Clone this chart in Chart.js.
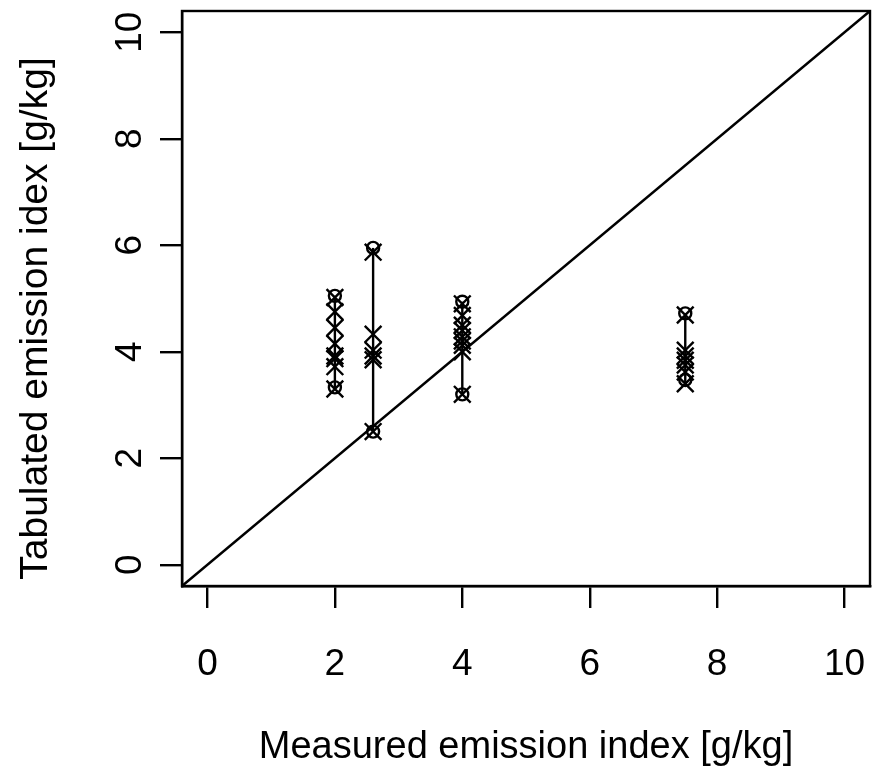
<!DOCTYPE html>
<html>
<head>
<meta charset="utf-8">
<script src="https://cdn.jsdelivr.net/npm/chart.js@4/dist/chart.umd.min.js"></script>
<style>
html,body{margin:0;padding:0;background:#fff;}
#wrap{width:879px;height:770px;}
</style>
</head>
<body>
<div id="wrap"><canvas id="c" width="879" height="770"></canvas></div>
<script>
// ---- data ----
const measured = [2, 2.6, 4, 7.5];
// circles (pch 1) per group
const circleVals = [
  [5.05, 3.33],
  [5.95, 2.50],
  [4.94, 3.20],
  [4.72, 3.47]
];
// crosses (pch 4) per group
const crossVals = [
  [5.02, 4.75, 4.45, 4.15, 3.92, 3.87, 3.72, 3.30],
  [5.87, 4.33, 4.03, 3.92, 3.85, 2.50],
  [4.90, 4.68, 4.50, 4.40, 4.28, 4.20, 4.12, 4.00, 3.20],
  [4.69, 4.03, 3.92, 3.84, 3.75, 3.62, 3.40]
];
const xTicks = [0, 2, 4, 6, 8, 10];
const yTicks = [0, 2, 4, 6, 8, 10];
const axisMin = -0.4, axisMax = 10.4;
const xTitle = 'Measured emission index [g/kg]';
const yTitle = 'Tabulated emission idex [g/kg]';

// ---- build datasets ----
const FONT = 'Liberation Sans, Arial, sans-serif';
const LW = 2.4;
const datasets = [];
datasets.push({
  label: 'identity',
  data: [{x: axisMin, y: axisMin}, {x: axisMax, y: axisMax}],
  showLine: true, borderColor: '#000', borderWidth: LW, pointRadius: 0, fill: false
});
measured.forEach((m, i) => {
  const all = circleVals[i].concat(crossVals[i]);
  datasets.push({
    label: 'range' + i,
    data: [{x: m, y: Math.min(...all)}, {x: m, y: Math.max(...all)}],
    showLine: true, borderColor: '#000', borderWidth: LW, pointRadius: 0, fill: false
  });
});
datasets.push({
  label: 'circles',
  data: measured.flatMap((m, i) => circleVals[i].map(v => ({x: m, y: v}))),
  pointStyle: 'circle', pointRadius: 6, pointBorderWidth: LW,
  pointBorderColor: '#000', pointBackgroundColor: 'rgba(0,0,0,0)', showLine: false
});
datasets.push({
  label: 'crosses',
  data: measured.flatMap((m, i) => crossVals[i].map(v => ({x: m, y: v}))),
  pointStyle: 'crossRot', pointRadius: 11.8, pointBorderWidth: LW,
  pointBorderColor: '#000', pointBackgroundColor: '#000', showLine: false
});

const boxPlugin = {
  id: 'box',
  afterDatasetsDraw(chart) {
    const {ctx, chartArea: a} = chart;
    ctx.save();
    ctx.strokeStyle = '#000';
    ctx.lineWidth = LW;
    ctx.strokeRect(a.left, a.top, a.right - a.left, a.bottom - a.top);
    ctx.restore();
  }
};

// y-axis title drawn as rotated canvas text
const yTitlePlugin = {
  id: 'ytitle',
  afterDraw(chart) {
    const {ctx, chartArea: a} = chart;
    ctx.save();
    ctx.fillStyle = '#000';
    ctx.font = '39px ' + FONT;
    ctx.textAlign = 'center';
    ctx.textBaseline = 'middle';
    ctx.translate(36, (a.top + a.bottom) / 2 + 20);
    ctx.rotate(-Math.PI / 2);
    ctx.fillText(yTitle, 0, 0);
    ctx.restore();
  }
};

new Chart(document.getElementById('c'), {
  type: 'scatter',
  data: {datasets},
  plugins: [boxPlugin, yTitlePlugin],
  options: {
    responsive: false,
    animation: false,
    devicePixelRatio: 1,
    clip: false,
    layout: {autoPadding: false, padding: {top: 11, right: 9, left: 0, bottom: 0}},
    plugins: {legend: {display: false}, tooltip: {enabled: false}, title: {display: false}},
    scales: {
      x: {
        type: 'linear', min: axisMin, max: axisMax,
        afterBuildTicks: s => { s.ticks = xTicks.map(v => ({value: v})); },
        afterFit: s => { s.height = 184; s.paddingLeft = 0; s.paddingRight = 0; },
        grid: {drawOnChartArea: false, drawTicks: true, tickLength: 22, color: '#000', lineWidth: LW},
        border: {display: true, color: '#000', width: LW},
        ticks: {color: '#000', font: {size: 37, family: FONT}, padding: 35, maxRotation: 0, minRotation: 0},
        title: {display: true, text: xTitle, color: '#000', font: {size: 38, family: FONT}, padding: {top: 0, bottom: 0}}
      },
      y: {
        type: 'linear', min: axisMin, max: axisMax,
        afterBuildTicks: s => { s.ticks = yTicks.map(v => ({value: v})); },
        afterFit: s => { s.width = 182; s.paddingTop = 0; s.paddingBottom = 0; },
        grid: {drawOnChartArea: false, drawTicks: true, tickLength: 22, color: '#000', lineWidth: LW},
        border: {display: true, color: '#000', width: LW},
        ticks: {color: '#000', font: {size: 37, family: FONT}, padding: 9, minRotation: 90, maxRotation: 90, crossAlign: 'center'},
        title: {display: false}
      }
    }
  }
});
</script>
</body>
</html>
